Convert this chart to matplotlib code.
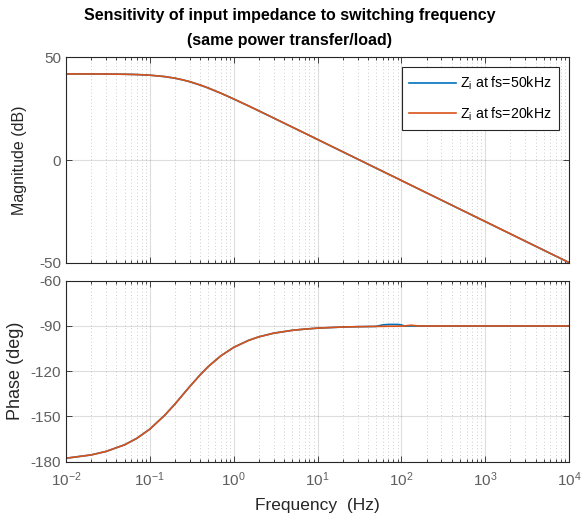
import matplotlib
matplotlib.use("Agg")
import matplotlib.pyplot as plt
from matplotlib.ticker import LogLocator, FixedLocator, NullFormatter, LogFormatterSciNotation

plt.rcParams['font.family'] = ['Liberation Sans', 'DejaVu Sans']
plt.rcParams['mathtext.fontset'] = 'custom'
plt.rcParams['mathtext.rm'] = 'Liberation Sans'
plt.rcParams['mathtext.it'] = 'Liberation Sans:italic'
plt.rcParams['axes.unicode_minus'] = False

# ---- data ----
freq = [0.01, 0.02, 0.03, 0.05, 0.07, 0.1, 0.15, 0.2, 0.25, 0.3, 0.4, 0.5, 0.7,
        1, 1.5, 2, 3, 5, 7, 10, 20, 30, 50, 60, 70, 90, 100, 110, 130, 160,
        200, 500, 1000, 10000]
mag_50k = [41.99, 41.97, 41.94, 41.83, 41.68, 41.37, 40.69, 39.89, 39.04, 38.19,
           36.56, 35.09, 32.63, 29.79, 26.42, 23.97, 20.49, 16.07, 13.16, 10.06,
           4.04, 0.52, -3.92, -5.5, -6.85, -9.0, -9.94, -10.77, -12.22, -14.02,
           -15.96, -23.92, -29.94, -49.94]
mag_20k = [41.99, 41.97, 41.94, 41.83, 41.68, 41.37, 40.69, 39.89, 39.04, 38.19,
           36.56, 35.09, 32.63, 29.79, 26.42, 23.97, 20.49, 16.07, 13.16, 10.06,
           4.04, 0.52, -3.92, -5.5, -6.85, -9.0, -9.94, -10.77, -12.22, -14.02,
           -15.96, -23.92, -29.94, -49.94]
ph_50k = [-177.7, -175.5, -173.2, -168.8, -164.5, -158.4, -149.3, -141.7, -135.3,
          -130.1, -122.3, -116.8, -109.9, -104.2, -99.6, -97.2, -94.8, -92.9,
          -92.1, -91.45, -90.7, -90.5, -90.3, -89.3, -89.0, -89.0, -89.3, -90.1,
          -90.05, -90.05, -90.05, -90.0, -90.0, -90.0]
ph_20k = [-177.7, -175.5, -173.2, -168.8, -164.5, -158.4, -149.3, -141.7, -135.3,
          -130.1, -122.3, -116.8, -109.9, -104.2, -99.6, -97.2, -94.8, -92.9,
          -92.1, -91.45, -90.7, -90.5, -90.3, -90.25, -90.2, -90.15, -90.1, -90.0,
          -89.5, -90.0, -90.05, -90.0, -90.0, -90.0]
labels = ['Z$_\\mathregular{i}$ at fs=50kHz', 'Z$_\\mathregular{i}$ at fs=20kHz']
colors = ['#0072BD', '#D95319']
freq_ticks = [1e-2, 1e-1, 1e0, 1e1, 1e2, 1e3, 1e4]
mag_ticks = [-50, 0, 50]
ph_ticks = [-180, -150, -120, -90, -60]

fig = plt.figure(figsize=(5.82, 5.24), dpi=100)
ax1 = fig.add_axes([0.1134, 0.4987, 0.8643, 0.3916])
ax2 = fig.add_axes([0.1134, 0.1189, 0.8643, 0.3454])

axcol = '#262626'
tickcol = '#5e5e5e'
for ax in (ax1, ax2):
    ax.set_xscale('log')
    ax.set_xlim(1e-2, 1e4)
    ax.xaxis.set_major_locator(FixedLocator(freq_ticks))
    ax.xaxis.set_major_formatter(LogFormatterSciNotation())
    ax.xaxis.set_minor_locator(LogLocator(base=10, subs=range(2, 10), numticks=20))
    ax.xaxis.set_minor_formatter(NullFormatter())
    ax.grid(True, which='major', color='#262626', alpha=0.15, linewidth=0.8, linestyle='-')
    ax.grid(True, which='minor', color='#262626', alpha=0.3, linewidth=0.6, linestyle=(0, (1, 3)))
    ax.set_axisbelow(True)
    ax.tick_params(which='both', direction='in', top=True, right=True,
                   colors=axcol, labelcolor=tickcol, labelsize=11, width=0.6)
    ax.tick_params(which='major', length=4)
    ax.tick_params(which='minor', length=2)
    for s in ax.spines.values():
        s.set_color(axcol)
        s.set_linewidth(0.8)

ax1.plot(freq, mag_50k, color=colors[0], lw=1.2, label=labels[0])
ax1.plot(freq, mag_20k, color=colors[1], lw=1.2, label=labels[1])
ax1.set_ylim(-50, 50)
ax1.yaxis.set_major_locator(FixedLocator(mag_ticks))
ax1.tick_params(axis='x', which='both', labelbottom=False)
ax1.set_ylabel('Magnitude (dB)', fontsize=11.5, color=axcol, labelpad=9)
leg = ax1.legend(loc='upper right', fontsize=10.2, handlelength=3.3, frameon=True,
                 fancybox=False, edgecolor=axcol, framealpha=1,
                 borderpad=0.5, labelspacing=0.95, borderaxespad=0.7,
                 handletextpad=0.3)
leg.get_frame().set_linewidth(0.8)

ax2.plot(freq, ph_50k, color=colors[0], lw=1.2)
ax2.plot(freq, ph_20k, color=colors[1], lw=1.2)
ax2.set_ylim(-180, -60)
ax2.yaxis.set_major_locator(FixedLocator(ph_ticks))
ax2.set_ylabel('Phase (deg)', fontsize=13, color=axcol, labelpad=5)
ax2.set_xlabel('Frequency  (Hz)', fontsize=12.5, color=axcol, labelpad=7)
ax2.tick_params(axis='x', pad=6)

fig.text(0.497, 0.970, 'Sensitivity of input impedance to switching frequency',
         ha='center', va='center', fontsize=11.5, fontweight='bold', color='black')
fig.text(0.497, 0.923, '(same power transfer/load)',
         ha='center', va='center', fontsize=11.5, fontweight='bold', color='black')

fig.savefig('out.png', dpi=100)
